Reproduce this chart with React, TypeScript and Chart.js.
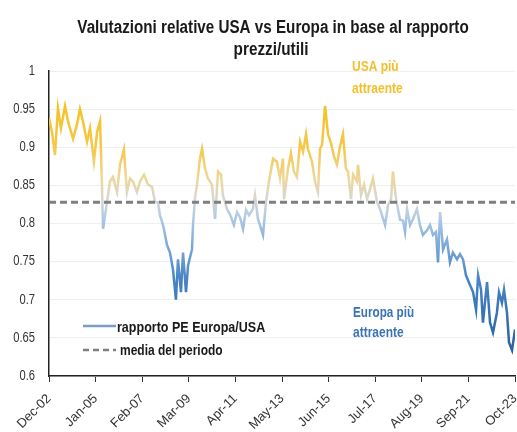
import React, { useEffect, useRef } from "react";
import { Chart, registerables } from "chart.js";

Chart.register(...registerables);

const FONT = "'Liberation Sans', Arial, sans-serif";

const titleLines = ["Valutazioni relative USA vs Europa in base al rapporto", "prezzi/utili"];
const seriesLabel = "rapporto PE Europa/USA";
const meanLabel = "media del periodo";
const usaNote = ["USA più", "attraente"];
const euNote = ["Europa più", "attraente"];

// x tick labels, one every 25 months starting Dec-02
const xTickLabels = ["Dec-02", "Jan-05", "Feb-07", "Mar-09", "Apr-11", "May-13", "Jun-15", "Jul-17", "Aug-19", "Sep-21", "Oct-23"];
const monthsPerTick = 25;

// months elapsed since Dec-02
const months = [
  0, 1.6, 3.2, 4.8, 6.4, 8.6, 10.2, 12.9, 15, 16.6, 18.2, 20.4, 22, 24.1, 25.8, 27.4, 28.4, 29, 31.1, 32.7,
  34.3, 36.5, 38.1, 40.2, 41.8, 43.5, 45.1, 47.2, 48.8, 51, 53.1, 55.3, 56.9, 58.5, 59.5, 61.2, 63.3, 64.9, 66.5, 68.1,
  69.2, 70.8, 71.9, 73.5, 74.6, 76.7, 77.3, 78.4, 79.4, 81, 82.1, 83.7, 85.3, 87.4, 89.1, 90.7, 92.3, 93.3, 95.5, 97.1,
  99.2, 100.9, 102.5, 104.1, 105.7, 107.3, 109.4, 110.5, 112.1, 114.8, 116.4, 118, 120.2, 122.3, 123.9, 125.5, 126.1, 128.2, 129.8, 131.4,
  133, 134.7, 136.3, 137.9, 138.9, 141.1, 142.7, 144.3, 145.4, 146.5, 148.1, 149.7, 151.3, 152.9, 154.5, 156.1, 157.7, 159.3, 160.4, 162,
  163.1, 165.2, 165.8, 167.4, 169, 170.6, 172.2, 173.8, 176, 177.6, 180.3, 181.9, 183.5, 184.5, 186.2, 188.3, 189.9, 191, 192.1, 193.7,
  195.3, 197.4, 199, 200.6, 202.8, 204.4, 206, 207.6, 208.7, 209.8, 211.4, 213.5, 215.1, 216.7, 218.9, 220.5, 222.1, 223.7, 225.9, 227.5,
  229.1, 230.2, 231.8, 232.8, 235, 236.6, 238.2, 240.3, 241.4, 243, 244.1, 245.7, 246.8, 248.4, 250,
];

// PE ratio Europe / USA
const ratio = [
  0.938, 0.92, 0.89, 0.951, 0.925, 0.954, 0.934, 0.911, 0.93, 0.95, 0.934, 0.907, 0.925, 0.881, 0.92, 0.934, 0.851, 0.793, 0.828, 0.855,
  0.861, 0.841, 0.877, 0.897, 0.841, 0.859, 0.855, 0.841, 0.855, 0.864, 0.851, 0.848, 0.828, 0.828, 0.811, 0.798, 0.772, 0.762, 0.74, 0.70,
  0.753, 0.71, 0.762, 0.71, 0.745, 0.766, 0.80, 0.835, 0.851, 0.885, 0.898, 0.872, 0.859, 0.851, 0.806, 0.868, 0.864, 0.837, 0.819, 0.812,
  0.798, 0.815, 0.808, 0.793, 0.818, 0.811, 0.819, 0.837, 0.806, 0.785, 0.828, 0.855, 0.885, 0.881, 0.859, 0.885, 0.832, 0.872, 0.892, 0.868,
  0.861, 0.907, 0.894, 0.917, 0.898, 0.881, 0.855, 0.841, 0.898, 0.903, 0.954, 0.917, 0.905, 0.888, 0.877, 0.901, 0.917, 0.872, 0.868, 0.832,
  0.864, 0.855, 0.877, 0.837, 0.851, 0.832, 0.845, 0.859, 0.828, 0.819, 0.798, 0.824, 0.832, 0.868, 0.832, 0.805, 0.804, 0.789, 0.819, 0.798,
  0.806, 0.819, 0.798, 0.785, 0.791, 0.798, 0.785, 0.789, 0.749, 0.815, 0.766, 0.779, 0.749, 0.762, 0.753, 0.76, 0.753, 0.732, 0.719, 0.71,
  0.687, 0.732, 0.713, 0.67, 0.723, 0.67, 0.657, 0.683, 0.71, 0.696, 0.713, 0.683, 0.644, 0.634, 0.661,
];

const periodMean = 0.828;

// colour ramp keyed on value
const rampValues = [0.96, 0.9, 0.86, 0.835, 0.81, 0.77, 0.73, 0.68, 0.63];
const rampColors = ["#F7C020", "#F5C84A", "#EED797", "#D9D8CC", "#B3CCE6", "#7AA8D8", "#4A86C6", "#3572B6", "#2A5F9E"];

// draw condensed text (horizontal squeeze)
function narrowText(c: CanvasRenderingContext2D, text: string, x: number, y: number, sx: number, align: CanvasTextAlign) {
  c.save();
  c.translate(x, y);
  c.scale(sx, 1);
  c.textAlign = align;
  c.fillText(text, 0, 0);
  c.restore();
}

const textPlugin = {
  id: "customTexts",
  afterDraw(chart: any) {
    const c = chart.ctx as CanvasRenderingContext2D;
    c.save();
    c.textBaseline = "alphabetic";

    // title
    c.fillStyle = "#1a1a1a";
    c.font = `bold 18px ${FONT}`;
    narrowText(c, titleLines[0], 273, 33, 0.845, "center");
    narrowText(c, titleLines[1], 271, 55, 0.85, "center");

    // y tick labels
    const ys = chart.scales.y;
    c.fillStyle = "#333";
    c.font = `14px ${FONT}`;
    c.textBaseline = "middle";
    ys.ticks.forEach((t: any) => {
      const py = ys.getPixelForValue(t.value);
      narrowText(c, String(Math.round(t.value * 100) / 100), 35, py, 0.8, "right");
    });
    c.textBaseline = "alphabetic";

    // notes
    c.font = `bold 15px ${FONT}`;
    c.fillStyle = "#F2BF2A";
    narrowText(c, usaNote[0], 352, 71, 0.8, "left");
    narrowText(c, usaNote[1], 352, 93, 0.8, "left");
    c.fillStyle = "#3A74B4";
    narrowText(c, euNote[0], 353, 317, 0.78, "left");
    narrowText(c, euNote[1], 353, 337, 0.8, "left");

    // legend
    c.lineWidth = 2.5;
    c.strokeStyle = "#7C9DC2";
    c.beginPath();
    c.moveTo(83, 326);
    c.lineTo(116, 326);
    c.stroke();
    c.strokeStyle = "#808080";
    c.setLineDash([6, 4]);
    c.beginPath();
    c.moveTo(83, 350);
    c.lineTo(116, 350);
    c.stroke();
    c.setLineDash([]);
    c.fillStyle = "#1a1a1a";
    c.font = `bold 15px ${FONT}`;
    narrowText(c, seriesLabel, 117, 332, 0.835, "left");
    narrowText(c, meanLabel, 120, 355, 0.8, "left");
    c.restore();
  },
};

export default function App() {
  const ref = useRef<HTMLCanvasElement>(null);
  useEffect(() => {
    document.body.style.margin = "0";
    const points = months.map((m, i) => ({ x: m, y: ratio[i] }));
    const last = xTickLabels.length - 1;
    const chart = new Chart(ref.current!, {
      type: "line",
      data: {
        datasets: [
          {
            label: meanLabel,
            data: [
              { x: 0, y: periodMean },
              { x: last * monthsPerTick, y: periodMean },
            ],
            borderColor: "#7F7F7F",
            borderWidth: 3,
            borderDash: [7, 4],
            pointRadius: 0,
          },
          {
            label: seriesLabel,
            data: points,
            borderWidth: 2.5,
            pointRadius: 0,
            tension: 0,
            borderColor: (ctx: any) => {
              const ch = ctx.chart;
              const ys = ch.scales?.y;
              if (!ch.chartArea || !ys) return "#7C9DC2";
              const top = ys.getPixelForValue(rampValues[0]);
              const bot = ys.getPixelForValue(rampValues[rampValues.length - 1]);
              const g = ch.ctx.createLinearGradient(0, top, 0, bot);
              const span = rampValues[0] - rampValues[rampValues.length - 1];
              rampValues.forEach((v, i) => g.addColorStop((rampValues[0] - v) / span, rampColors[i]));
              return g;
            },
          },
        ],
      },
      options: {
        responsive: false,
        animation: false,
        devicePixelRatio: 1,
        layout: { padding: { top: 71, right: 2, left: 0, bottom: 0 } },
        plugins: { legend: { display: false }, title: { display: false }, tooltip: { enabled: false } },
        scales: {
          x: {
            type: "linear",
            min: 0,
            max: last * monthsPerTick,
            afterFit: (s: any) => {
              s.height = 56;
              s.paddingLeft = 0;
              s.paddingRight = 0;
            },
            border: { display: true, color: "#222", width: 1.5 },
            grid: { display: true, drawOnChartArea: false, drawTicks: true, tickLength: 6, color: "#333" },
            ticks: {
              stepSize: monthsPerTick,
              autoSkip: false,
              maxRotation: 45,
              minRotation: 45,
              padding: 9,
              color: "#333",
              font: { family: FONT, size: 13 },
              callback: (v: any) => xTickLabels[Math.round(Number(v) / monthsPerTick)] ?? "",
            },
          },
          y: {
            min: 0.6,
            max: 1,
            afterFit: (s: any) => {
              s.width = 49;
            },
            border: { display: true, color: "#222", width: 1.5 },
            grid: { color: "#EFEFEF", drawTicks: false },
            ticks: {
              stepSize: 0.05,
              display: false,
            },
          },
        },
      },
      plugins: [textPlugin],
    });
    return () => chart.destroy();
  }, []);
  return (
    <div style={{ width: 517, height: 432 }}>
      <canvas ref={ref} width={517} height={432} style={{ display: "block" }} />
    </div>
  );
}
